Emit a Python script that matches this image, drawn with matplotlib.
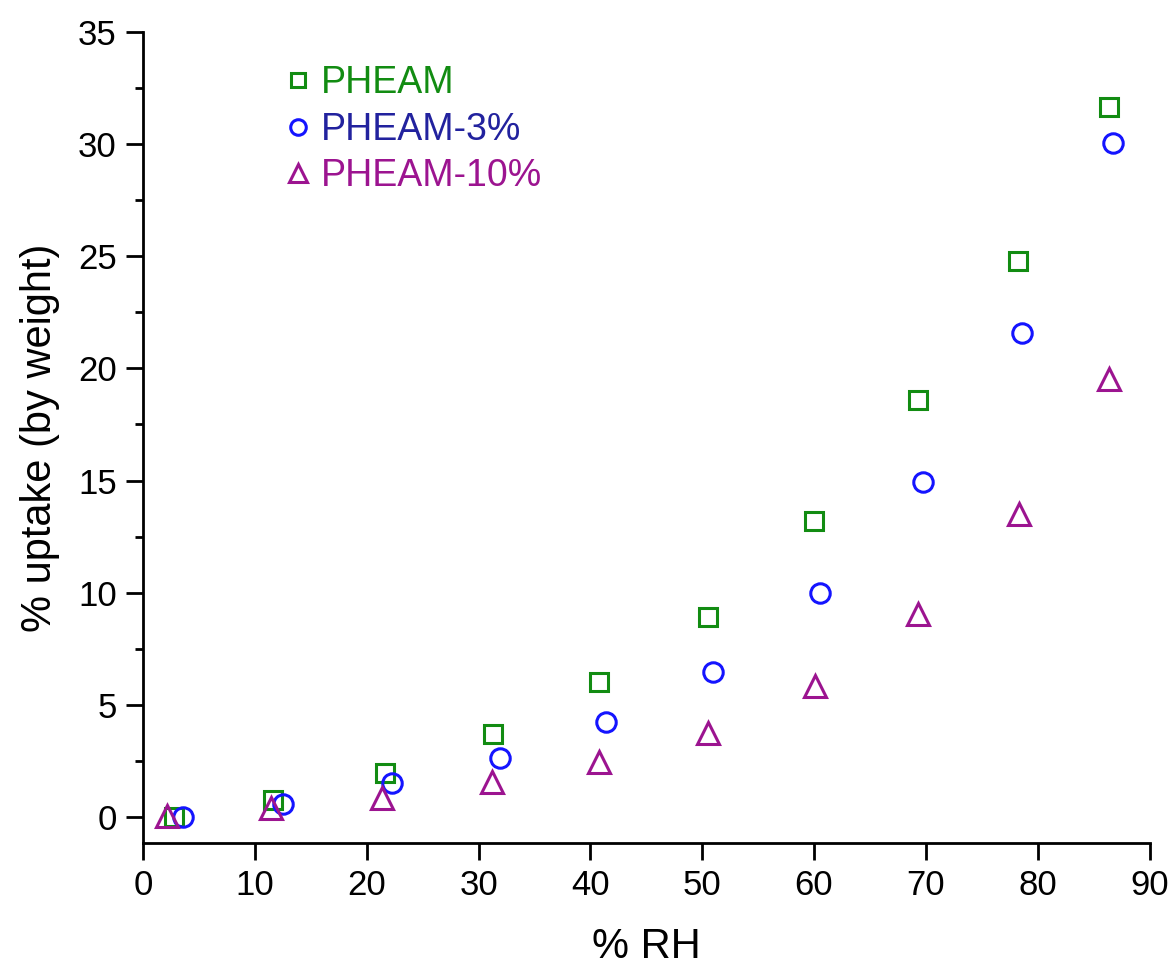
import matplotlib
matplotlib.use("Agg")
import matplotlib.pyplot as plt
from matplotlib.ticker import MultipleLocator

plt.rcParams['font.family'] = ['Liberation Sans', 'DejaVu Sans']

# % RH and % uptake
rh_pheam = [2.8, 11.6, 21.6, 31.3, 40.8, 50.5, 60.0, 69.3, 78.2, 86.4]
up_pheam = [0.0, 0.76, 1.96, 3.7, 6.0, 8.9, 13.2, 18.6, 24.8, 31.65]

rh_3 = [3.6, 12.5, 22.3, 31.9, 41.4, 51.0, 60.5, 69.7, 78.6, 86.7]
up_3 = [0.0, 0.6, 1.5, 2.65, 4.25, 6.45, 10.0, 14.95, 21.6, 30.05]

rh_10 = [2.1, 11.4, 21.4, 31.2, 40.8, 50.5, 60.1, 69.3, 78.3, 86.4]
up_10 = [0.05, 0.4, 0.85, 1.55, 2.45, 3.75, 5.85, 9.05, 13.5, 19.55]

labels = ['PHEAM', 'PHEAM-3%', 'PHEAM-10%']
marker_cols = ['#128c12', '#1414ff', '#9c1490']
text_cols = ['#128c12', '#22229e', '#9c1490']

fig = plt.figure(figsize=(11.73, 9.69), dpi=100)
ax = fig.add_axes([0.122, 0.130, 0.858, 0.837])

ax.plot(rh_pheam, up_pheam, 's', ms=12.5, mfc='none', mec=marker_cols[0], mew=2.2, label=labels[0])
ax.plot(rh_3, up_3, 'o', ms=14, mfc='none', mec=marker_cols[1], mew=2.2, label=labels[1])
ax.plot(rh_10, up_10, '^', ms=16, mfc='none', mec=marker_cols[2], mew=2.2, label=labels[2])

ax.set_xlim(0, 90)
ax.set_ylim(-1.16, 35)
ax.xaxis.set_major_locator(MultipleLocator(10))
ax.yaxis.set_major_locator(MultipleLocator(5))
ax.yaxis.set_minor_locator(MultipleLocator(2.5))

for s in ['top', 'right']:
    ax.spines[s].set_visible(False)
for s in ['left', 'bottom']:
    ax.spines[s].set_linewidth(2.0)

ax.tick_params(which='major', direction='out', length=12, width=2.0, labelsize=25, pad=7)
ax.tick_params(which='minor', direction='out', length=6, width=2.0)

ax.set_xlabel('% RH', fontsize=30, labelpad=18)
ax.set_ylabel('% uptake (by weight)', fontsize=30, labelpad=13)

leg = ax.legend(loc='upper left', bbox_to_anchor=(0.124, 0.982), frameon=False,
                fontsize=27, markerscale=0.8, handlelength=0.6, handletextpad=0.3,
                labelspacing=0.28, borderpad=0)
for t, c in zip(leg.get_texts(), text_cols):
    t.set_color(c)

fig.savefig('out.png', dpi=100)
